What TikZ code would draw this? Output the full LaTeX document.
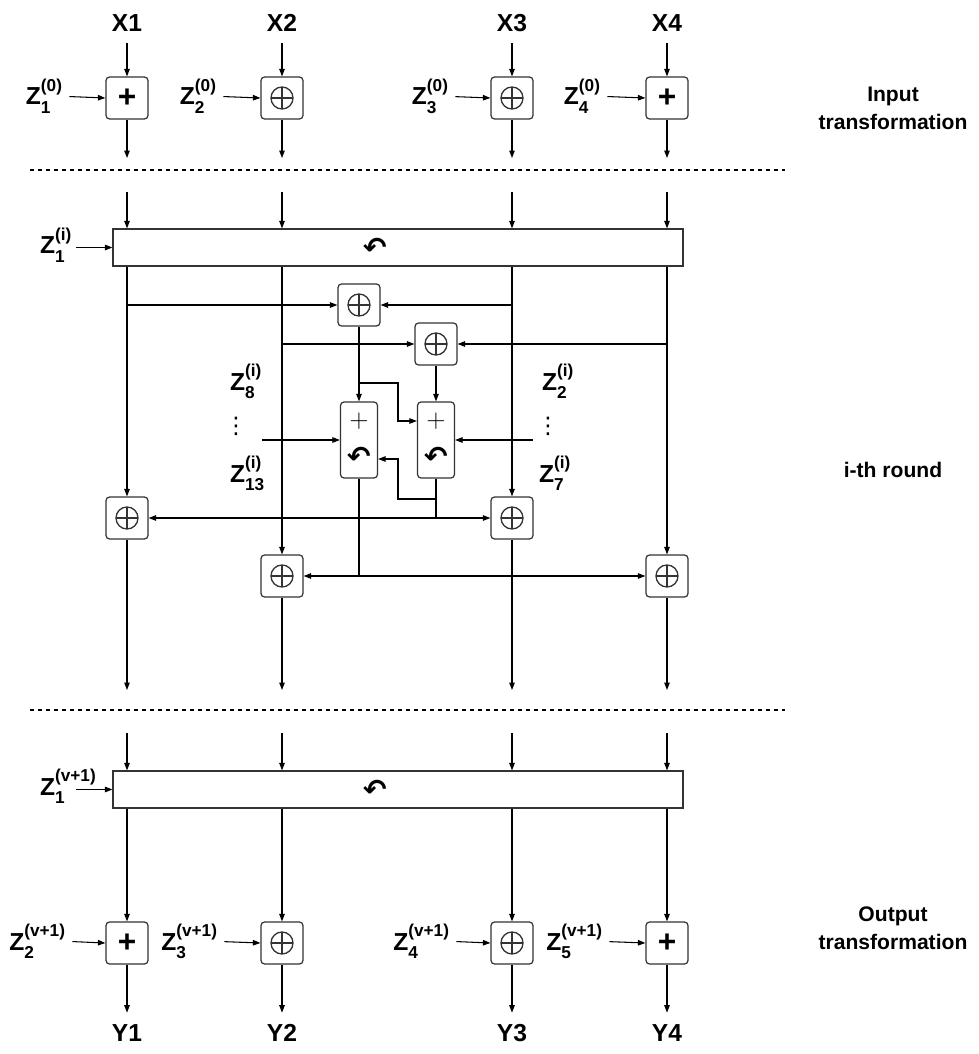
\documentclass[tikz,border=0pt]{standalone}
\usepackage{amsmath}
\usepackage{fontspec}
\setmainfont{Liberation Sans}
\newfontfamily\symfont{DejaVu Sans}
\usetikzlibrary{arrows.meta, positioning}
\tikzstyle{opbox}    = [draw=black!80, rounded corners=2pt, minimum width=0.84cm, minimum height=0.84cm,
                        inner sep=0pt, line width=0.7pt]
\tikzstyle{xorbox}   = [opbox, path picture={
                          \draw[line width=0.75pt] (path picture bounding box.center) circle (0.22cm);
                          \draw[line width=0.75pt] (path picture bounding box.center) ++(0,-0.22cm) -- ++(0,0.44cm);
                          \draw[line width=0.75pt] (path picture bounding box.center) ++(-0.22cm,0) -- ++(0.44cm,0);}]
\tikzstyle{mabox}    = [opbox, minimum width=0.74cm, minimum height=1.52cm, align=center,
                        font=\fontsize{15}{17}\selectfont]
\tikzstyle{widebox}  = [draw=black!80, minimum width=11.4cm, minimum height=0.74cm, inner sep=0pt, line width=0.7pt]
\tikzstyle{iolabel}  = [font=\fontsize{14}{16}\selectfont\bfseries, minimum height=0.8cm, inner sep=0pt]
\tikzstyle{keylabel} = [font=\fontsize{14}{16}\selectfont\bfseries, inner sep=1pt, anchor=base east]
\tikzstyle{dotslabel}= [font=\symfont\fontsize{13}{13}\selectfont, inner sep=0pt]
\tikzstyle{stage}    = [font=\fontsize{12}{16}\selectfont\bfseries, align=center]
\tikzstyle{arrow}    = [-{Triangle[length=1.5mm,width=1.1mm]}, line width=0.6pt]
\tikzstyle{keyarrow} = [arrow, shorten <=2.5pt]
\tikzstyle{wire}     = [line width=0.6pt]
\tikzstyle{sep}      = [line width=0.6pt, dash pattern=on 0.08cm off 0.08cm]
\newcommand{\addop}{\fontsize{18}{18}\selectfont\bfseries +}
\newcommand{\rotop}{{\symfont\bfseries\fontsize{16}{16}\selectfont ↶}}
\newcommand{\zk}[2]{$\text{Z}^{\text{\raisebox{2pt}{(#2)}}}_{\text{\raisebox{-1.5pt}{#1}}}$}

\begin{document}
\begin{tikzpicture}[x=0.02cm, y=-0.02cm]
    \useasboundingbox (0,0) rectangle (979,1054);

    % input transformation
    \node (X1) [iolabel] at (127,23) {X1};
    \node (X2) [iolabel] at (282,23) {X2};
    \node (X3) [iolabel] at (512,23) {X3};
    \node (X4) [iolabel] at (667,23) {X4};
    \node (in1) [opbox] at (127,98) {\addop};
    \node (in2) [xorbox] at (282,98) {};
    \node (in3) [xorbox] at (512,98) {};
    \node (in4) [opbox] at (667,98) {\addop};
    \node (zin1) [keylabel] at (65,105) {\zk{1}{0}};
    \node (zin2) [keylabel] at (219,105) {\zk{2}{0}};
    \node (zin3) [keylabel] at (451,105) {\zk{3}{0}};
    \node (zin4) [keylabel] at (603,105) {\zk{4}{0}};
    \node (intxt) [stage] at (893,108) {Input\\transformation};
    \foreach \c/\x in {1/127,2/282,3/512,4/667} {
        \coordinate (o\c) at (\x,158);
        \draw[arrow] (X\c) -- (in\c);
        \draw[keyarrow] (zin\c.east) -- (in\c.west);
        \draw[arrow] (in\c) -- (o\c);
    }
    \draw[sep] (30,170) -- (785,170);

    % i-th round
    \node (rnd) [widebox] at (398,247.5) {};
    \node (rs1) at (375,248) {\rotop};
    \node (zr) [keylabel, anchor=base west] at (38,254) {\zk{1}{i}};
    \coordinate (zra) at (76,247.5);
    \draw[arrow] (zra) -- (rnd.west);
    \node (x1) [xorbox] at (359,305) {};
    \node (x2) [xorbox] at (436,344) {};
    \node (ma1) [mabox] at (359,440) {$+$\\[5pt]\rotop};
    \node (ma2) [mabox] at (436,440) {$+$\\[5pt]\rotop};
    \node (xa) [xorbox] at (127,518) {};
    \node (xb) [xorbox] at (282,576) {};
    \node (xc) [xorbox] at (512,518) {};
    \node (xd) [xorbox] at (667,576) {};
    \node (z8) [keylabel, anchor=base west] at (228,390) {\zk{8}{i}};
    \node (dl) [dotslabel] at (236,426) {⋮};
    \node (z13) [keylabel, anchor=base west] at (228,482) {\zk{13}{i}};
    \node (z2) [keylabel, anchor=base west] at (540,390) {\zk{2}{i}};
    \node (dr) [dotslabel] at (548,426) {⋮};
    \node (z7) [keylabel, anchor=base west] at (537,482) {\zk{7}{i}};
    \node (rtxt) [stage] at (893,470) {i-th round};
    \coordinate (zl) at (262,440);
    \coordinate (zr2) at (533,440);
    \draw[arrow] (zl) -- (ma1.west);
    \draw[arrow] (zr2) -- (ma2.east);

    \foreach \c/\x in {1/127,2/282,3/512,4/667} {
        \coordinate (t\c) at (\x,192);
        \coordinate (e\c) at (\x,690);
        \draw[arrow] (t\c) -- (t\c |- rnd.north);
    }
    \draw[arrow] (t1 |- rnd.south) -- (xa.north);
    \draw[arrow] (t2 |- rnd.south) -- (xb.north);
    \draw[arrow] (t3 |- rnd.south) -- (xc.north);
    \draw[arrow] (t4 |- rnd.south) -- (xd.north);
    \draw[arrow] (xa) -- (e1);
    \draw[arrow] (xb) -- (e2);
    \draw[arrow] (xc) -- (e3);
    \draw[arrow] (xd) -- (e4);

    \draw[arrow] (t1 |- x1) -- (x1.west);
    \draw[arrow] (t3 |- x1) -- (x1.east);
    \draw[arrow] (t2 |- x2) -- (x2.west);
    \draw[arrow] (t4 |- x2) -- (x2.east);
    \draw[arrow] (x1) -- (ma1);
    \draw[arrow] (x2) -- (ma2);
    \draw[arrow] (x1.south |- 0,383) -- (398,383) -- (398,421) -- (ma2.west |- 0,421);
    \draw[arrow] (ma2.south |- 0,499) -- (398,499) -- (398,459) -- (ma1.east |- 0,459);

    \coordinate (j1) at (ma2.south |- xa);
    \coordinate (j2) at (ma1.south |- xb);
    \draw[wire] (ma2.south) -- (j1);
    \draw[wire] (ma1.south) -- (j2);
    \draw[arrow] (j1) -- (xa.east);
    \draw[arrow] (j1) -- (xc.west);
    \draw[arrow] (j2) -- (xb.east);
    \draw[arrow] (j2) -- (xd.west);
    \draw[sep] (30,710) -- (785,710);

    % output transformation
    \node (fin) [widebox] at (398,789.5) {};
    \node (rs2) at (375,790) {\rotop};
    \node (zf) [keylabel, anchor=base west] at (38,795) {\zk{1}{v+1}};
    \coordinate (zfa) at (76,789.5);
    \draw[arrow] (zfa) -- (fin.west);
    \node (ob1) [opbox] at (127,943) {\addop};
    \node (ob2) [xorbox] at (282,943) {};
    \node (ob3) [xorbox] at (512,943) {};
    \node (ob4) [opbox] at (667,943) {\addop};
    \node (zo1) [keylabel] at (68,950) {\zk{2}{v+1}};
    \node (zo2) [keylabel] at (220,950) {\zk{3}{v+1}};
    \node (zo3) [keylabel] at (452,950) {\zk{4}{v+1}};
    \node (zo4) [keylabel] at (605,950) {\zk{5}{v+1}};
    \node (Y1) [iolabel] at (127,1033) {Y1};
    \node (Y2) [iolabel] at (282,1033) {Y2};
    \node (Y3) [iolabel] at (512,1033) {Y3};
    \node (Y4) [iolabel] at (667,1033) {Y4};
    \node (outtxt) [stage] at (893,928) {Output\\transformation};
    \foreach \c/\x in {1/127,2/282,3/512,4/667} {
        \coordinate (u\c) at (\x,733);
        \draw[arrow] (u\c) -- (u\c |- fin.north);
        \draw[arrow] (u\c |- fin.south) -- (ob\c);
        \draw[keyarrow] (zo\c.east) -- (ob\c.west);
        \draw[arrow] (ob\c) -- (Y\c);
    }
\end{tikzpicture}
\end{document}
